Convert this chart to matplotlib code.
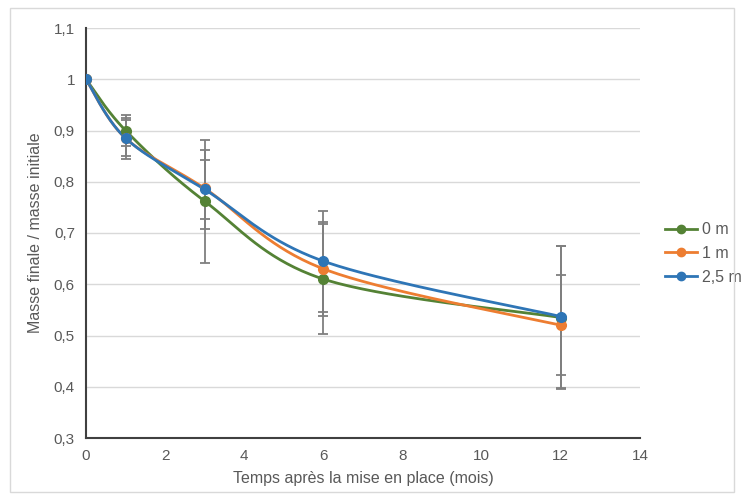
import numpy as np
import matplotlib.pyplot as plt

# données
mois = [0, 1, 3, 6, 12]
series = ['0 m', '1 m', '2,5 m']
masse_0m = [1.0, 0.900, 0.762, 0.610, 0.535]
masse_1m = [1.0, 0.885, 0.787, 0.630, 0.520]
masse_25m = [1.0, 0.885, 0.785, 0.645, 0.537]
err_bas_0m = [0, 0.030, 0.120, 0.107, 0.112]
err_haut_0m = [0, 0.030, 0.120, 0.107, 0.083]
err_bas_1m = [0, 0.035, 0.060, 0.092, 0.125]
err_haut_1m = [0, 0.035, 0.055, 0.092, 0.155]
err_bas_25m = [0, 0.040, 0.077, 0.100, 0.140]
err_haut_25m = [0, 0.040, 0.077, 0.097, 0.138]
couleurs = ['#548235', '#ED7D31', '#2E75B6']


def lisser(x, y, n=40):
    """Courbe lissée type Excel (Bézier / Catmull-Rom)"""
    x = np.asarray(x, float)
    y = np.asarray(y, float)
    px = np.concatenate(([x[0]], x, [x[-1]]))
    py = np.concatenate(([y[0]], y, [y[-1]]))
    t = np.linspace(0, 1, n)
    xs, ys = [], []
    for i in range(1, len(px) - 2):
        p0 = np.array([px[i], py[i]])
        p3 = np.array([px[i + 1], py[i + 1]])
        c1 = p0 + (np.array([px[i + 1], py[i + 1]]) - np.array([px[i - 1], py[i - 1]])) / 6
        c2 = p3 - (np.array([px[i + 2], py[i + 2]]) - np.array([px[i], py[i]])) / 6
        b = (np.outer((1 - t) ** 3, p0) + np.outer(3 * (1 - t) ** 2 * t, c1)
             + np.outer(3 * (1 - t) * t ** 2, c2) + np.outer(t ** 3, p3))
        xs.extend(b[:, 0])
        ys.extend(b[:, 1])
    return np.array(xs), np.array(ys)


plt.rcParams['font.family'] = ['Liberation Sans', 'DejaVu Sans']

fig = plt.figure(figsize=(7.44, 5), dpi=100)
ax = fig.add_axes([86 / 744, 62 / 500, 554 / 744, 410 / 500])

donnees = [(masse_0m, err_bas_0m, err_haut_0m),
           (masse_1m, err_bas_1m, err_haut_1m),
           (masse_25m, err_bas_25m, err_haut_25m)]

for (y, eb, eh), nom, c in zip(donnees, series, couleurs):
    ax.errorbar(mois, y, yerr=[eb, eh], fmt='none', ecolor='#7f7f7f',
                elinewidth=1.3, capsize=3.5, capthick=1.3, zorder=2)
    xs, ys = lisser(mois, y)
    ax.plot(xs, ys, color=c, linewidth=2, zorder=3)
    ax.plot(mois, y, 'o', color=c, markersize=7, zorder=4)
    ax.plot([], [], '-o', color=c, linewidth=2, markersize=6, label=nom)

ax.set_xlim(0, 14)
ax.set_ylim(0.3, 1.1)
ax.set_xticks(range(0, 15, 2))
yt = np.arange(0.3, 1.11, 0.1)
ax.set_yticks(yt)
ax.set_yticklabels(['1' if abs(v - 1) < 1e-9 else f'{v:.1f}'.replace('.', ',') for v in yt])
ax.grid(axis='y', color='#d9d9d9', linewidth=1)
ax.set_axisbelow(True)
for s in ['top', 'right']:
    ax.spines[s].set_visible(False)
for s in ['left', 'bottom']:
    ax.spines[s].set_color('#404040')
    ax.spines[s].set_linewidth(1.5)
ax.tick_params(length=0, labelsize=11, colors='#595959', pad=8)

ax.set_xlabel('Temps après la mise en place (mois)', fontsize=11.5, color='#595959', labelpad=6)
ax.set_ylabel('Masse finale / masse initiale', fontsize=11.5, color='#595959', labelpad=8)

ax.legend(loc='center left', bbox_to_anchor=(1.045, 0.45), frameon=False,
          borderaxespad=0, borderpad=0,
          fontsize=11.5, labelcolor='#595959', handlelength=2.0, handletextpad=0.3,
          labelspacing=0.55)

fig.patches.append(plt.Rectangle((10 / 744, 8 / 500), 724 / 744, 484 / 500,
                                 transform=fig.transFigure, fill=False,
                                 edgecolor='#d9d9d9', linewidth=1))

fig.savefig('out.png', dpi=100)
